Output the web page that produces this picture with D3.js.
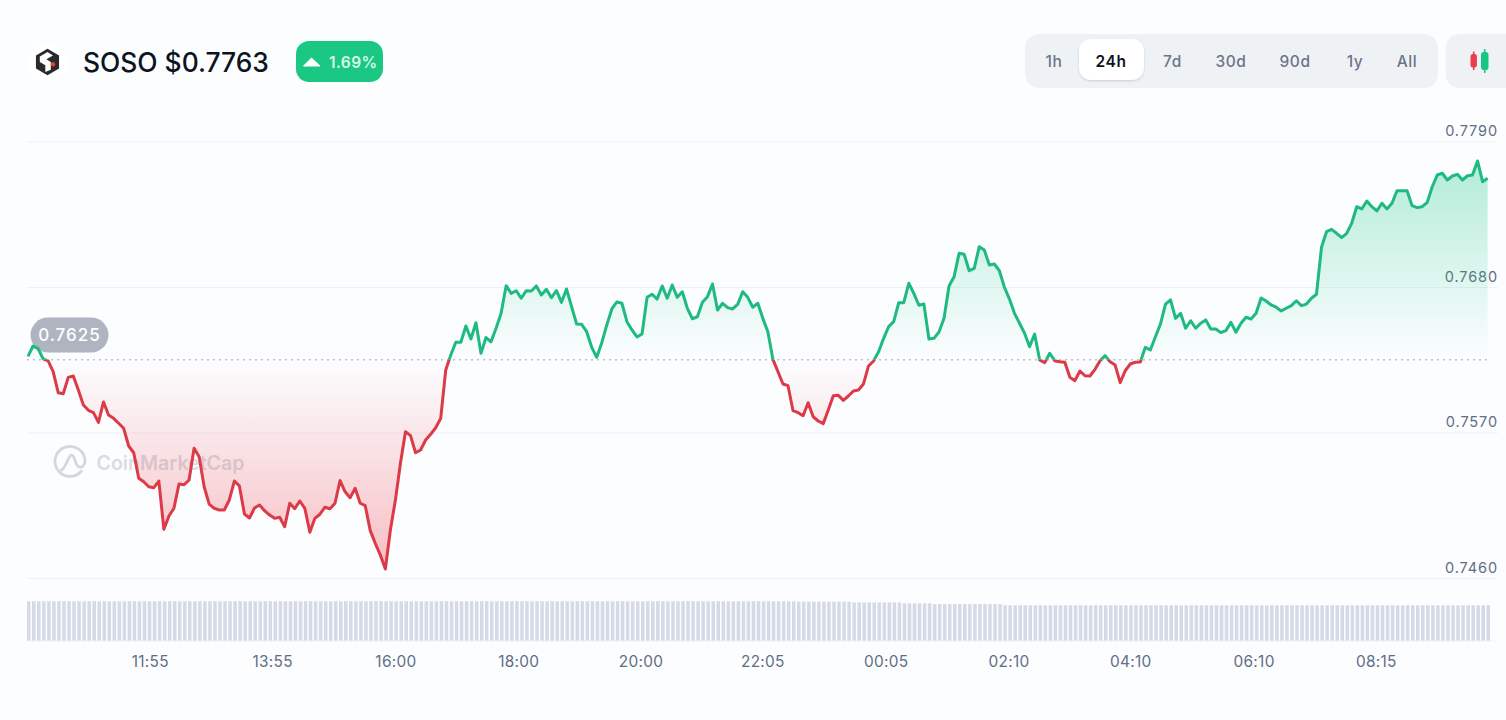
<!DOCTYPE html>
<html>
<head>
<meta charset="utf-8">
<title>SOSO price chart</title>
<script src="https://cdn.jsdelivr.net/npm/d3@7/dist/d3.min.js"></script>
<style>
  html, body { margin: 0; padding: 0; background: #fcfdff; overflow: hidden; }
  svg { display: block; font-family: Inter, "Noto Sans", sans-serif; }
</style>
</head>
<body>
<svg id="chart" width="1506" height="720"></svg>
<script>
// 24 hours of 5-minute SOSO closes
const prices = [
  0.76275,0.76354,0.76334,0.76256,0.76241,0.76160,0.76001,0.75993,0.76117,0.76127,
  0.76021,0.75908,0.75868,0.75850,0.75777,0.75931,0.75832,0.75807,0.75770,0.75732,
  0.75598,0.75547,0.75354,0.75328,0.75290,0.75283,0.75333,0.74968,0.75069,0.75127,
  0.75311,0.75305,0.75341,0.75581,0.75517,0.75290,0.75159,0.75127,0.75114,0.75114,
  0.75190,0.75333,0.75296,0.75084,0.75054,0.75129,0.75152,0.75109,0.75076,0.75051,
  0.75059,0.74988,0.75165,0.75124,0.75182,0.75127,0.74946,0.75051,0.75082,0.75135,
  0.75124,0.75165,0.75336,0.75252,0.75207,0.75278,0.75165,0.75147,0.74958,0.74862,
  0.74774,0.74668,0.74963,0.75190,0.75467,0.75706,0.75676,0.75547,0.75568,0.75643,
  0.75686,0.75736,0.75807,0.76173,0.76286,0.76382,0.76382,0.76505,0.76407,0.76530,
  0.76299,0.76418,0.76386,0.76488,0.76601,0.76810,0.76752,0.76772,0.76715,0.76772,
  0.76770,0.76808,0.76740,0.76783,0.76719,0.76772,0.76684,0.76785,0.76651,0.76520,
  0.76518,0.76462,0.76344,0.76269,0.76379,0.76513,0.76634,0.76687,0.76677,0.76538,
  0.76475,0.76422,0.76445,0.76722,0.76745,0.76709,0.76808,0.76715,0.76815,0.76722,
  0.76764,0.76639,0.76560,0.76575,0.76684,0.76727,0.76823,0.76626,0.76677,0.76644,
  0.76634,0.76669,0.76764,0.76722,0.76647,0.76677,0.76563,0.76462,0.76253,0.76160,
  0.76067,0.76054,0.75865,0.75850,0.75827,0.75925,0.75819,0.75787,0.75767,0.75870,
  0.75978,0.75981,0.75943,0.75976,0.76014,0.76021,0.76067,0.76203,0.76241,0.76311,
  0.76412,0.76500,0.76538,0.76681,0.76681,0.76828,0.76752,0.76662,0.76671,0.76407,
  0.76412,0.76460,0.76563,0.76808,0.76878,0.77055,0.77047,0.76923,0.76941,0.77105,
  0.77080,0.76966,0.76974,0.76923,0.76798,0.76709,0.76601,0.76526,0.76450,0.76349,
  0.76445,0.76248,0.76228,0.76299,0.76243,0.76235,0.76231,0.76117,0.76092,0.76165,
  0.76129,0.76127,0.76178,0.76243,0.76281,0.76235,0.76210,0.76077,0.76167,0.76218,
  0.76231,0.76233,0.76344,0.76324,0.76424,0.76520,0.76671,0.76702,0.76563,0.76601,
  0.76488,0.76545,0.76488,0.76526,0.76551,0.76482,0.76482,0.76455,0.76470,0.76533,
  0.76458,0.76526,0.76571,0.76558,0.76601,0.76717,0.76694,0.76664,0.76647,0.76619,
  0.76639,0.76659,0.76696,0.76659,0.76671,0.76715,0.76745,0.77100,0.77218,0.77236,
  0.77206,0.77173,0.77206,0.77282,0.77407,0.77390,0.77450,0.77407,0.77375,0.77433,
  0.77390,0.77433,0.77528,0.77528,0.77528,0.77415,0.77400,0.77407,0.77440,0.77558,
  0.77647,0.77660,0.77609,0.77639,0.77652,0.77609,0.77641,0.77647,0.77753,0.77596,
  0.77622
];

// Relative volume per sample, one bar for each price above
const volumes = [
  100,100,100,100,100,100,100,100,100,100,100,100,100,100,100,100,100,100,100,100,
  100,100,100,100,100,100,100,100,100,100,100,100,100,100,100,100,100,100,100,100,
  100,100,100,100,100,100,100,100,100,100,100,100,100,100,100,100,100,100,100,100,
  100,100,100,100,100,100,100,100,100,100,100,100,100,100,100,100,100,100,100,100,
  100,100,100,100,100,100,100,100,100,100,100,100,100,100,100,100,100,100,100,100,
  100,100,100,100,100,100,100,100,100,100,100,100,100,100,100,100,100,100,100,100,
  100,100,100,100,100,100,100,100,100,100,100,100,100,100,100,100,100,100,100,100,
  100,100,100,100,100,100,100,100,100,100,100,100,100,99,99,99,99,99,99,99,
  99,99,99,99,97,97,97,97,97,97,97,97,97,97,95,95,95,95,95,95,
  93,93,93,93,93,93,93,93,93,93,93,93,93,93,90,90,90,90,90,90,
  90,90,90,90,90,90,90,90,90,90,90,90,90,90,90,90,90,90,90,90,
  90,90,90,90,90,90,90,90,90,90,90,90,90,90,90,90,90,90,90,90,
  90,90,90,90,90,90,90,90,90,90,90,90,90,90,90,90,90,90,90,90,
  90,90,90,90,90,90,90,90,90,90,90,90,90,90,90,90,90,90,90,90,
  90,90,90,90,90,90,90,90,90,90,90
];

const referencePrice = 0.7625;
const priceTicks = [0.7790, 0.7680, 0.7570, 0.7460];
const timeLabels = ["11:55","13:55","16:00","18:00","20:00","22:05","00:05","02:10","04:10","06:10","08:15"];
const timeLabelSamples = [24.2,48.5,73,97.4,121.7,145.9,170.4,194.8,219,243.5,267.8];
const rangeOptions = ["1h","24h","7d","30d","90d","1y","All"];
const rangeCentres = [1054,1111,1172.5,1231,1295,1355,1407];
const activeRange = "24h";

const GREEN = "#16c784", LINE_GREEN = "#1fba80", LINE_RED = "#dc3a47", INK = "#0d1421", SLATE = "#616e85";

const svg = d3.select("#chart");
const defs = svg.append("defs");

const x = d3.scaleLinear().domain([0, prices.length - 1]).range([28, 1487.6]);
const y = d3.scaleLinear().domain([0.7460, 0.7790]).range([578, 141.5]);
const volX = d3.scaleBand().domain(d3.range(volumes.length)).range([27, 1490]).paddingInner(0.3);
const volY = d3.scaleLinear().domain([0, 100]).range([641, 601.3]);

const baseY = y(referencePrice);

// Header: token mark, name and price
const mark = svg.append("g").attr("transform", "translate(47.5,62) scale(1.1)");
mark.append("circle").attr("r", 18).attr("fill", "#ffffff");
mark.append("path").attr("d", "M0,-12 L10.5,-6 L10.5,6 L0,12 L-10.5,6 L-10.5,-6 Z").attr("fill", "#2a2a2e");
mark.append("path").attr("d", "M-7,-5 L0,-9 L5,-6 L-1,-2.5 L3,0 L3,7 L-2,9 L-2,3 L-7,0 Z").attr("fill", "#ffffff");
mark.append("circle").attr("cx", 5).attr("cy", 2).attr("r", 2).attr("fill", "#e5432f");

svg.append("text").attr("x", 83).attr("y", 72.3).attr("font-size", 26.4).attr("font-weight", 500)
  .attr("fill", INK).text("SOSO $0.7763");

const badge = svg.append("g");
badge.append("rect").attr("x", 296).attr("y", 41).attr("width", 87).attr("height", 41).attr("rx", 13).attr("fill", "#1bc883");
badge.append("path").attr("d", "M303.5,66 L311.5,58 L320,66 Z").attr("fill", "#ffffff").attr("stroke", "#ffffff").attr("stroke-linejoin", "round");
badge.append("text").attr("x", 329).attr("y", 67.5).attr("font-size", 15.5).attr("font-weight", 600)
  .attr("fill", "#d8f8e9").attr("letter-spacing", 0.4).text("1.69%");

// Time-range selector and candlestick toggle
svg.append("rect").attr("x", 1025).attr("y", 34).attr("width", 413).attr("height", 54).attr("rx", 14).attr("fill", "#eff2f5");
defs.append("filter").attr("id", "raise").attr("x", "-20%").attr("y", "-20%").attr("width", "140%").attr("height", "150%")
  .append("feDropShadow").attr("dx", 0).attr("dy", 1).attr("stdDeviation", 1).attr("flood-color", "#8a94a6").attr("flood-opacity", 0.4);
svg.append("rect").attr("x", 1079).attr("y", 39).attr("width", 65).attr("height", 41).attr("rx", 12)
  .attr("fill", "#ffffff").attr("filter", "url(#raise)");
svg.append("g").selectAll("text").data(rangeOptions).join("text")
  .attr("x", (d, i) => rangeCentres[i]).attr("y", 66.5).attr("text-anchor", "middle")
  .attr("font-size", 15.5).attr("letter-spacing", 0.6)
  .attr("font-weight", d => d === activeRange ? 600 : 500)
  .attr("fill", d => d === activeRange ? "#0d1421" : "#6b7488").text(d => d);

svg.append("rect").attr("x", 1445.5).attr("y", 34).attr("width", 80).attr("height", 54).attr("rx", 14).attr("fill", "#eff2f5");
const candles = svg.append("g");
candles.append("line").attr("x1", 1473.7).attr("x2", 1473.7).attr("y1", 51.5).attr("y2", 70).attr("stroke", "#e5404c").attr("stroke-width", 1.6);
candles.append("rect").attr("x", 1470.5).attr("y", 54).attr("width", 6.4).attr("height", 13.5).attr("rx", 2.5).attr("fill", "#e5404c");
candles.append("line").attr("x1", 1484.7).attr("x2", 1484.7).attr("y1", 49).attr("y2", 73).attr("stroke", "#16c784").attr("stroke-width", 1.6);
candles.append("rect").attr("x", 1481).attr("y", 52).attr("width", 7.5).attr("height", 18).attr("rx", 2.8).attr("fill", "#16c784");

// Horizontal gridlines with price labels sitting above them
const yAxis = svg.append("g").attr("transform", "translate(27,0)")
  .call(d3.axisRight(y).tickValues(priceTicks).tickFormat(d3.format(".4f")).tickSize(1471).tickPadding(0));
yAxis.select(".domain").remove();
yAxis.selectAll(".tick line").attr("stroke", "#eff1f5").attr("stroke-width", 1.2);
yAxis.selectAll(".tick text").attr("x", 1471).attr("y", -11).attr("dy", "0.35em").attr("text-anchor", "end")
  .attr("font-family", "Inter, sans-serif").attr("font-size", 14.5).attr("letter-spacing", 0.9).attr("fill", SLATE);

// Watermark, sitting under the price fill
const wm = svg.append("g").attr("fill", "none").attr("stroke", "#d3d7df");
wm.append("path").attr("stroke-width", 2.8).attr("stroke-linecap", "round").attr("stroke-linejoin", "round")
  .attr("d", "M81.5,471 A15,15 0 1 1 85,461 C85,465.5 82,468 79,467 C75,465.5 75,455 71.5,455 C68.5,455 66,468 61.5,470");
svg.append("text").attr("x", 96.5).attr("y", 469.5).attr("font-size", 19.6).attr("font-weight", 600)
  .attr("fill", "#d8dce3").text("CoinMarketCap");

// Fill gradients fade out towards the reference price
const gUp = defs.append("linearGradient").attr("id", "fillUp").attr("gradientUnits", "userSpaceOnUse")
  .attr("x1", 0).attr("x2", 0).attr("y1", y(0.7775)).attr("y2", baseY);
gUp.append("stop").attr("offset", 0).attr("stop-color", GREEN).attr("stop-opacity", 0.32);
gUp.append("stop").attr("offset", 1).attr("stop-color", GREEN).attr("stop-opacity", 0);
const gDown = defs.append("linearGradient").attr("id", "fillDown").attr("gradientUnits", "userSpaceOnUse")
  .attr("x1", 0).attr("x2", 0).attr("y1", baseY).attr("y2", y(d3.min(prices)));
gDown.append("stop").attr("offset", 0).attr("stop-color", "#ea3943").attr("stop-opacity", 0);
gDown.append("stop").attr("offset", 1).attr("stop-color", "#ea3943").attr("stop-opacity", 0.32);

// Clip regions split the series at the reference price
defs.append("clipPath").attr("id", "aboveRef").append("rect").attr("x", 0).attr("y", 0).attr("width", 1506).attr("height", baseY);
defs.append("clipPath").attr("id", "belowRef").append("rect").attr("x", 0).attr("y", baseY).attr("width", 1506).attr("height", 720 - baseY);

const area = d3.area().x((d, i) => x(i)).y0(baseY).y1(d => y(d));
const line = d3.line().x((d, i) => x(i)).y(d => y(d));

svg.append("path").datum(prices).attr("d", area).attr("fill", "url(#fillUp)").attr("clip-path", "url(#aboveRef)");
svg.append("path").datum(prices).attr("d", area).attr("fill", "url(#fillDown)").attr("clip-path", "url(#belowRef)");

// Reference price pill and dotted level
svg.append("line").attr("x1", 27).attr("x2", 1490).attr("y1", baseY).attr("y2", baseY)
  .attr("stroke", "#bcc2cd").attr("stroke-width", 1.4).attr("stroke-dasharray", "2 4");
svg.append("rect").attr("x", 30.5).attr("y", 317.5).attr("width", 78).attr("height", 35).attr("rx", 17.5).attr("fill", "#aeb4c0");
svg.append("text").attr("x", 69.5).attr("y", 340.5).attr("text-anchor", "middle").attr("font-size", 17).attr("font-weight", 500)
  .attr("letter-spacing", 1).attr("fill", "#ffffff").text(d3.format(".4f")(referencePrice));

const drawLine = (colour, clip) => svg.append("path").datum(prices).attr("d", line)
  .attr("fill", "none").attr("stroke", colour).attr("stroke-width", 3)
  .attr("stroke-linejoin", "round").attr("clip-path", clip);
drawLine(LINE_GREEN, "url(#aboveRef)");
drawLine(LINE_RED, "url(#belowRef)");

// Volume strip
svg.append("g").selectAll("rect").data(volumes).join("rect")
  .attr("x", (d, i) => volX(i)).attr("width", volX.bandwidth())
  .attr("y", d => volY(d)).attr("height", d => volY(0) - volY(d))
  .attr("fill", "#d4dae6");
svg.append("line").attr("x1", 27).attr("x2", 1497).attr("y1", 641).attr("y2", 641).attr("stroke", "#eef1f5");

// Time axis
const xAxis = svg.append("g").attr("transform", "translate(0,641)")
  .call(d3.axisBottom(x).tickValues(timeLabelSamples).tickFormat((d, i) => timeLabels[i]).tickSize(0).tickPadding(0));
xAxis.select(".domain").remove();
xAxis.selectAll(".tick text").attr("y", 21).attr("dy", "0.35em")
  .attr("font-family", "Inter, sans-serif").attr("font-size", 15.4).attr("letter-spacing", 0.3).attr("fill", SLATE);
</script>
</body>
</html>
